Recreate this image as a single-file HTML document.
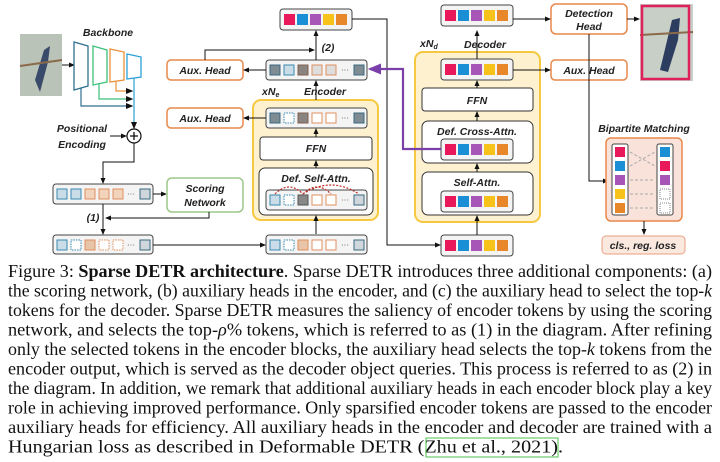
<!DOCTYPE html>
<html><head><meta charset="utf-8"><style>
html,body{margin:0;padding:0;background:#fff;width:720px;height:462px;overflow:hidden}
svg{display:block}
.l{font-family:"Liberation Sans",sans-serif;font-weight:bold;font-style:italic;font-size:10.5px;fill:#222}
.c{font-family:"Liberation Serif",serif;font-size:18px;fill:#111}
</style></head><body>
<svg width="720" height="462" viewBox="0 0 720 462" xmlns="http://www.w3.org/2000/svg">
<defs>
<marker id="a" markerWidth="6" markerHeight="6" refX="5" refY="3" orient="auto"><path d="M0,0.5 L6,3 L0,5.5z" fill="#111"/></marker>
<marker id="p" markerWidth="6" markerHeight="6" refX="5" refY="3" orient="auto"><path d="M0,0.5 L6,3 L0,5.5z" fill="#7a3fa8"/></marker>
</defs>
<rect x="20" y="34" width="42" height="62" fill="#b9c3b8"/>
<path d="M35,80 L44,50 L50,46 L48,62 L40,92z" fill="#3a4a6a"/>
<line x1="20" y1="66" x2="62" y2="60" stroke="#8a6a4a" stroke-width="2"/>
<line x1="62" y1="65" x2="74" y2="65" stroke="#111" marker-end="url(#a)"/>
<text class="l" x="108" y="36" text-anchor="middle" font-size="11">Backbone</text>
<path d="M74,42 L88,46 L88,86 L74,90z" fill="#fff" stroke="#2f6f8f" stroke-width="1.3"/>
<path d="M93,46 L107,50 L107,82 L93,85z" fill="#fff" stroke="#3cc07a" stroke-width="1.3"/>
<path d="M110,49 L124,52 L124,80 L110,82z" fill="#fff" stroke="#e8923a" stroke-width="1.3"/>
<path d="M127,54 L141,57 L141,77 L127,79z" fill="#fff" stroke="#2aa0d8" stroke-width="1.3"/>
<path d="M81,88 L81,106 L132,106" fill="none" stroke="#2f6f8f" stroke-width="1.2" marker-end="url(#a)"/>
<path d="M99,84 L99,99 L132,99" fill="none" stroke="#3cc07a" stroke-width="1.2" marker-end="url(#a)"/>
<path d="M116,81 L116,91 L132,91" fill="none" stroke="#e8923a" stroke-width="1.2" marker-end="url(#a)"/>
<line x1="134" y1="78" x2="134" y2="128" stroke="#2aa0d8" stroke-width="1.2" marker-end="url(#a)"/>
<circle cx="134" cy="136" r="7" fill="#fff" stroke="#111" stroke-width="1.2"/>
<path d="M130,136h8M134,132v8" stroke="#111" stroke-width="1.3"/>
<text class="l" x="82" y="132" text-anchor="middle">Positional</text>
<text class="l" x="82" y="148" text-anchor="middle">Encoding</text>
<line x1="110" y1="136" x2="126" y2="136" stroke="#111" marker-end="url(#a)"/>
<path d="M134,143 L134,162 L103,162 L103,183" fill="none" stroke="#111" marker-end="url(#a)"/>
<rect x="53" y="184" width="100" height="20" rx="3" fill="#f4f4f4" stroke="#444"/>
<rect x="57" y="189" width="10" height="10" fill="#c9dce8" stroke="#3a8ab0"/>
<rect x="71" y="189" width="10" height="10" fill="#c9dce8" stroke="#3a8ab0"/>
<rect x="85" y="189" width="10" height="10" fill="#f2d4bc" stroke="#e09060"/>
<rect x="99" y="189" width="10" height="10" fill="#f2d4bc" stroke="#e09060"/>
<rect x="113" y="189" width="10" height="10" fill="#f2d4bc" stroke="#e09060"/>
<rect x="140" y="189" width="10" height="10" fill="#cfd6dc" stroke="#3a6a80"/>
<text x="131" y="197" font-size="8" fill="#555" text-anchor="middle">···</text>
<line x1="153" y1="194" x2="166" y2="194" stroke="#111" marker-end="url(#a)"/>
<rect x="167" y="178" width="76" height="34" rx="5" fill="#fff" stroke="#9cc98a" stroke-width="1.5"/>
<text class="l" x="205" y="192" text-anchor="middle">Scoring</text>
<text class="l" x="205" y="206" text-anchor="middle">Network</text>
<path d="M209,212 L209,218 L106,218" fill="none" stroke="#111" marker-end="url(#a)"/>
<text class="l" x="93" y="221" text-anchor="middle">(1)</text>
<line x1="103" y1="204" x2="103" y2="234" stroke="#111" marker-end="url(#a)"/>
<rect x="53" y="235" width="100" height="19" rx="3" fill="#f4f4f4" stroke="#444"/>
<rect x="57" y="240" width="10" height="10" fill="#c9dce8" stroke="#3a8ab0"/>
<rect x="71" y="240" width="10" height="10" fill="#fff" stroke="#3a8ab0" stroke-dasharray="1.5,1"/>
<rect x="85" y="240" width="10" height="10" fill="#e8c4a8" stroke="#e09060"/>
<rect x="99" y="240" width="10" height="10" fill="#fff" stroke="#e09060" stroke-dasharray="1.5,1"/>
<rect x="113" y="240" width="10" height="10" fill="#fff" stroke="#e09060" stroke-dasharray="1.5,1"/>
<rect x="140" y="240" width="10" height="10" fill="#cfd6dc" stroke="#3a6a80"/>
<text x="131" y="248" font-size="8" fill="#555" text-anchor="middle">···</text>
<line x1="153" y1="245" x2="265" y2="245" stroke="#111" marker-end="url(#a)"/>
<rect x="253" y="100" width="125" height="120" rx="8" fill="#fdf1cf" stroke="#f5c840" stroke-width="2"/>
<text class="l" x="262" y="95">xN<tspan font-size="7" dy="2">e</tspan></text>
<text class="l" x="325" y="95" font-size="11.5" text-anchor="middle">Encoder</text>
<rect x="266" y="108" width="101" height="20" rx="3" fill="#f4f4f4" stroke="#444"/>
<rect x="270" y="113" width="10" height="10" fill="#7f8c94" stroke="#3a6a80"/>
<rect x="284" y="113" width="10" height="10" fill="#fff" stroke="#3a8ab0" stroke-dasharray="1.5,1"/>
<rect x="298" y="113" width="10" height="10" fill="#8a8480" stroke="#806050"/>
<rect x="312" y="113" width="10" height="10" fill="#fff" stroke="#e09060"/>
<rect x="326" y="113" width="10" height="10" fill="#fff" stroke="#e09060"/>
<rect x="354" y="113" width="10" height="10" fill="#7f8c94" stroke="#3a6a80"/>
<text x="345" y="121" font-size="8" fill="#555" text-anchor="middle">···</text>
<rect x="260" y="137" width="112" height="23" rx="3" fill="#fff" stroke="#333"/>
<text class="l" x="316" y="152" text-anchor="middle">FFN</text>
<rect x="259" y="168" width="114" height="47" rx="6" fill="#fff" stroke="#333"/>
<text class="l" x="316" y="182" text-anchor="middle">Def. Self-Attn.</text>
<rect x="266" y="190" width="101" height="20" rx="3" fill="#f4f4f4" stroke="#444"/>
<rect x="270" y="195" width="10" height="10" fill="#c9dce8" stroke="#3a8ab0"/>
<rect x="284" y="195" width="10" height="10" fill="#fff" stroke="#3a8ab0" stroke-dasharray="1.5,1"/>
<rect x="298" y="195" width="10" height="10" fill="#888" stroke="#555"/>
<rect x="312" y="195" width="10" height="10" fill="#fff" stroke="#e09060"/>
<rect x="326" y="195" width="10" height="10" fill="#fff" stroke="#e09060"/>
<rect x="354" y="195" width="10" height="10" fill="#cfd6dc" stroke="#3a6a80"/>
<text x="345" y="203" font-size="8" fill="#555" text-anchor="middle">···</text>
<path d="M275,194 Q289,180 303,194 M303,194 Q317,180 331,194 M303,194 Q331,176 359,194" fill="none" stroke="#c0302a" stroke-width="1.2" stroke-dasharray="2,1.5"/>
<line x1="316" y1="168" x2="316" y2="161" stroke="#111" marker-end="url(#a)"/>
<line x1="316" y1="137" x2="316" y2="129" stroke="#111" marker-end="url(#a)"/>
<line x1="316" y1="234" x2="316" y2="216" stroke="#111" marker-end="url(#a)"/>
<rect x="266" y="235" width="101" height="19" rx="3" fill="#f4f4f4" stroke="#444"/>
<rect x="270" y="240" width="10" height="10" fill="#c9dce8" stroke="#3a8ab0"/>
<rect x="284" y="240" width="10" height="10" fill="#fff" stroke="#3a8ab0" stroke-dasharray="1.5,1"/>
<rect x="298" y="240" width="10" height="10" fill="#e8c4a8" stroke="#e09060"/>
<rect x="312" y="240" width="10" height="10" fill="#fff" stroke="#e09060"/>
<rect x="326" y="240" width="10" height="10" fill="#fff" stroke="#e09060"/>
<rect x="354" y="240" width="10" height="10" fill="#cfd6dc" stroke="#3a6a80"/>
<text x="345" y="248" font-size="8" fill="#555" text-anchor="middle">···</text>
<rect x="266" y="60" width="101" height="20" rx="3" fill="#f4f4f4" stroke="#444"/>
<rect x="270" y="65" width="10" height="10" fill="#7f8c94" stroke="#3a6a80"/>
<rect x="284" y="65" width="10" height="10" fill="#c9dce8" stroke="#3a8ab0"/>
<rect x="298" y="65" width="10" height="10" fill="#8a8480" stroke="#806050"/>
<rect x="312" y="65" width="10" height="10" fill="#ddd" stroke="#e09060"/>
<rect x="326" y="65" width="10" height="10" fill="#ddd" stroke="#e09060"/>
<rect x="354" y="65" width="10" height="10" fill="#7f8c94" stroke="#3a6a80"/>
<text x="345" y="73" font-size="8" fill="#555" text-anchor="middle">···</text>
<line x1="316" y1="100" x2="316" y2="81" stroke="#111" marker-end="url(#a)"/>
<rect x="167" y="60" width="76" height="20" rx="4" fill="#fff" stroke="#e8874a" stroke-width="1.5"/>
<text class="l" x="205" y="74" text-anchor="middle">Aux. Head</text>
<rect x="167" y="108" width="76" height="20" rx="4" fill="#fff" stroke="#e8874a" stroke-width="1.5"/>
<text class="l" x="205" y="122" text-anchor="middle">Aux. Head</text>
<line x1="266" y1="70" x2="244" y2="70" stroke="#111" marker-end="url(#a)"/>
<line x1="266" y1="118" x2="244" y2="118" stroke="#111" marker-end="url(#a)"/>
<path d="M205,60 L205,50 L314,50" fill="none" stroke="#111" marker-end="url(#a)"/>
<line x1="316" y1="60" x2="316" y2="31" stroke="#111" marker-end="url(#a)"/>
<text class="l" x="328" y="51" text-anchor="middle">(2)</text>
<g id="cr">
<rect x="280" y="9" width="72" height="21" rx="3" fill="#f4f4f4" stroke="#444"/>
<rect x="284" y="14" width="11" height="11" fill="#e8185a"/>
<rect x="297" y="14" width="11" height="11" fill="#1a8fd6"/>
<rect x="310" y="14" width="11" height="11" fill="#a855b8"/>
<rect x="323" y="14" width="11" height="11" fill="#f7c21a"/>
<rect x="336" y="14" width="11" height="11" fill="#e8872a"/>
</g>
<use href="#cr" x="161" y="-4"/>
<use href="#cr" x="161" y="226"/>
<path d="M352,19 L387,19 L387,245 L440,245" fill="none" stroke="#111" marker-end="url(#a)"/>
<rect x="415" y="52" width="125" height="170" rx="8" fill="#fdf1cf" stroke="#f5c840" stroke-width="2"/>
<use href="#cr" x="161" y="50"/>
<text class="l" x="420" y="47">xN<tspan font-size="7" dy="2">d</tspan></text>
<text class="l" x="485" y="48" font-size="11.5" text-anchor="middle">Decoder</text>
<rect x="422" y="88" width="111" height="23" rx="3" fill="#fff" stroke="#333"/>
<text class="l" x="477" y="104" text-anchor="middle">FFN</text>
<rect x="422" y="121" width="111" height="42" rx="6" fill="#fff" stroke="#333"/>
<text class="l" x="477" y="135" text-anchor="middle">Def. Cross-Attn.</text>
<rect x="422" y="172" width="111" height="43" rx="6" fill="#fff" stroke="#333"/>
<text class="l" x="477" y="186" text-anchor="middle">Self-Attn.</text>
<use href="#cr" x="161" y="130"/>
<use href="#cr" x="161" y="182"/>
<line x1="477" y1="121" x2="477" y2="112" stroke="#111" marker-end="url(#a)"/>
<line x1="477" y1="88" x2="477" y2="81" stroke="#111" marker-end="url(#a)"/>
<line x1="477" y1="172" x2="477" y2="164" stroke="#111" marker-end="url(#a)"/>
<line x1="477" y1="235" x2="477" y2="216" stroke="#111" marker-end="url(#a)"/>
<line x1="477" y1="59" x2="477" y2="31" stroke="#111" marker-end="url(#a)"/>
<path d="M441,149 L403,149 L403,69 L370,69" fill="none" stroke="#7a3fa8" stroke-width="2.2" marker-end="url(#p)"/>
<rect x="551" y="4" width="76" height="30" rx="5" fill="#fff" stroke="#e8874a" stroke-width="1.5"/>
<text class="l" x="589" y="17" text-anchor="middle">Detection</text>
<text class="l" x="589" y="30" text-anchor="middle">Head</text>
<rect x="551" y="60" width="76" height="20" rx="4" fill="#fff" stroke="#e8874a" stroke-width="1.5"/>
<text class="l" x="589" y="74" text-anchor="middle">Aux. Head</text>
<line x1="513" y1="19" x2="550" y2="19" stroke="#111" marker-end="url(#a)"/>
<line x1="513" y1="70" x2="550" y2="70" stroke="#111" marker-end="url(#a)"/>
<line x1="627" y1="19" x2="639" y2="19" stroke="#111" marker-end="url(#a)"/>
<rect x="640" y="4" width="53" height="77" fill="#c8cfc6"/>
<path d="M660,70 L672,20 L680,18 L678,40 L668,72z" fill="#2c3d60"/>
<line x1="640" y1="35" x2="693" y2="32" stroke="#8a6a4a" stroke-width="2"/>
<rect x="642" y="6" width="47" height="73" fill="none" stroke="#e0205a" stroke-width="2.5"/>
<path d="M589,34 L589,181 L608,181" fill="none" stroke="#111" marker-end="url(#a)"/>
<text class="l" x="644" y="132" text-anchor="middle">Bipartite Matching</text>
<rect x="606" y="138" width="76" height="83" rx="5" fill="#f8e2da" stroke="#e8874a" stroke-width="1.5"/>
<rect x="612" y="144" width="16" height="71" rx="2" fill="#fff" stroke="#444"/>
<rect x="657" y="144" width="16" height="71" rx="2" fill="#fff" stroke="#444"/>
<rect x="615" y="147" width="10" height="10" fill="#e8185a"/>
<rect x="615" y="161" width="10" height="10" fill="#1a8fd6"/>
<rect x="615" y="175" width="10" height="10" fill="#a855b8"/>
<rect x="615" y="189" width="10" height="10" fill="#f7c21a"/>
<rect x="615" y="203" width="10" height="10" fill="#e8872a"/>
<rect x="660" y="147" width="10" height="10" fill="#1a8fd6"/>
<rect x="660" y="161" width="10" height="10" fill="#e8185a"/>
<rect x="660" y="175" width="10" height="10" fill="#a855b8"/>
<rect x="660" y="189" width="10" height="10" fill="#fff" stroke="#888" stroke-dasharray="1,1"/>
<rect x="660" y="203" width="10" height="10" fill="#fff" stroke="#888" stroke-dasharray="1,1"/>
<path d="M630,152 L655,166 M630,166 L655,152 M630,180 H655 M630,194 H655 M630,208 H655" stroke="#aaa" stroke-dasharray="3,2"/>
<line x1="644" y1="221" x2="644" y2="234" stroke="#111" marker-end="url(#a)"/>
<rect x="602" y="236" width="83" height="18" rx="4" fill="#fbe9e0" stroke="#e8a080"/>
<text class="l" x="643" y="249" text-anchor="middle">cls., reg. loss</text>
<text class="c" x="8" y="277" textLength="704" lengthAdjust="spacingAndGlyphs">Figure 3: <tspan font-weight="bold">Sparse DETR architecture</tspan>. Sparse DETR introduces three additional components: (a)</text>
<text class="c" x="8" y="296.5" textLength="704" lengthAdjust="spacingAndGlyphs">the scoring network, (b) auxiliary heads in the encoder, and (c) the auxiliary head to select the top-<tspan font-style="italic">k</tspan></text>
<text class="c" x="8" y="316" textLength="704" lengthAdjust="spacingAndGlyphs">tokens for the decoder. Sparse DETR measures the saliency of encoder tokens by using the scoring</text>
<text class="c" x="8" y="335.5" textLength="704" lengthAdjust="spacingAndGlyphs">network, and selects the top-<tspan font-style="italic">ρ</tspan>% tokens, which is referred to as (1) in the diagram. After refining</text>
<text class="c" x="8" y="355" textLength="704" lengthAdjust="spacingAndGlyphs">only the selected tokens in the encoder blocks, the auxiliary head selects the top-<tspan font-style="italic">k</tspan> tokens from the</text>
<text class="c" x="8" y="374.5" textLength="704" lengthAdjust="spacingAndGlyphs">encoder output, which is served as the decoder object queries. This process is referred to as (2) in</text>
<text class="c" x="8" y="394" textLength="704" lengthAdjust="spacingAndGlyphs">the diagram. In addition, we remark that additional auxiliary heads in each encoder block play a key</text>
<text class="c" x="8" y="413.5" textLength="704" lengthAdjust="spacingAndGlyphs">role in achieving improved performance. Only sparsified encoder tokens are passed to the encoder</text>
<text class="c" x="8" y="433" textLength="704" lengthAdjust="spacingAndGlyphs">auxiliary heads for efficiency. All auxiliary heads in the encoder and decoder are trained with a</text>
<text class="c" x="8" y="452.5" textLength="555" lengthAdjust="spacingAndGlyphs">Hungarian loss as described in Deformable DETR (Zhu et al., 2021).</text>
<rect x="426" y="438" width="132" height="19" fill="none" stroke="#4cc04c" stroke-width="1"/>
</svg>
</body></html>
